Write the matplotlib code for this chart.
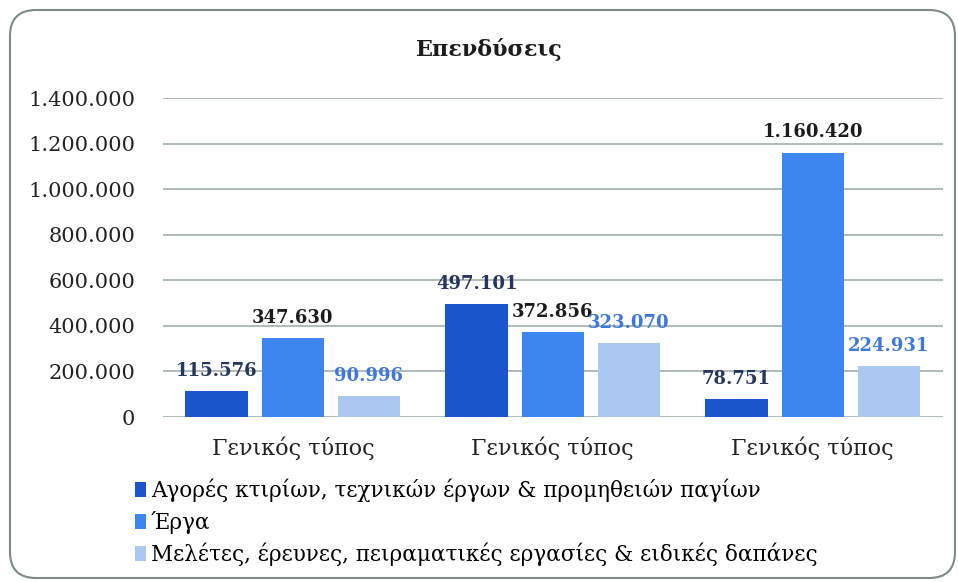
import matplotlib.pyplot as plt
import numpy as np
from matplotlib.patches import FancyBboxPatch, Patch
from matplotlib.transforms import IdentityTransform

categories = ["Γενικός τύπος", "Γενικός τύπος", "Γενικός τύπος"]
series_names = [
    "Αγορές κτιρίων, τεχνικών έργων & προμηθειών παγίων",
    "Έργα",
    "Μελέτες, έρευνες, πειραματικές εργασίες & ειδικές δαπάνες",
]
agores = [115576, 497101, 78751]
erga = [347630, 372856, 1160420]
meletes = [90996, 323070, 224931]

bar_colors = ["#1a55cc", "#3d86f0", "#aac8f0"]
label_colors = ["#27365f", "#1c1c1c", "#3f78dc"]
y_ticks = [0, 200000, 400000, 600000, 800000, 1000000, 1200000, 1400000]


def fmt(v):
    return f"{v:,.0f}".replace(",", ".")


plt.rcParams["font.family"] = ["DejaVu Serif"]

fig = plt.figure(figsize=(9.58, 5.82), dpi=100)
ax = fig.add_axes([0.170, 0.2835, 0.814, 0.5481])

x = np.arange(len(categories))
width = 0.24
step = 0.293
values = [agores, erga, meletes]
for i, (vals, color, lcolor) in enumerate(zip(values, bar_colors, label_colors)):
    pos = x + (i - 1) * step
    ax.bar(pos, vals, width=width, color=color, zorder=3, label=series_names[i])
    for px, v in zip(pos, vals):
        ax.annotate(fmt(v), (px, v), xytext=(0, 8), textcoords="offset points",
                    ha="center", va="bottom", fontsize=13, fontweight="bold",
                    color=lcolor, zorder=4)

ax.set_xlim(-0.5, 2.5)
ax.set_ylim(0, 1400000)
ax.set_yticks(y_ticks)
ax.set_yticklabels([fmt(t) for t in y_ticks], fontsize=15)
ax.set_xticks(x)
ax.set_xticklabels(categories, fontsize=16)
ax.tick_params(axis="both", length=0, colors="#222222")
ax.tick_params(axis="x", pad=14)
ax.tick_params(axis="y", pad=20)
ax.grid(axis="y", color="#a9b6b6", linewidth=1.3, zorder=0)
for s in ax.spines.values():
    s.set_visible(False)

fig.text(0.511, 0.915, "Επενδύσεις", ha="center", va="center",
         fontsize=16, fontweight="bold", color="#1c1c1c")

handles = [Patch(facecolor=c) for c in bar_colors]
fig.legend(handles, series_names, loc="upper left", bbox_to_anchor=(0.141, 0.178),
           frameon=False, fontsize=15.5, handlelength=0.5, handleheight=0.7,
           handletextpad=0.25, labelspacing=0.42, borderpad=0, borderaxespad=0)

frame = FancyBboxPatch((10, 4), 945, 568, boxstyle="round,pad=0,rounding_size=26",
                       transform=IdentityTransform(), fill=False,
                       edgecolor="#7d8b8b", linewidth=1.5)
fig.patches.append(frame)

fig.savefig("out.png", dpi=100)
plt.close(fig)
